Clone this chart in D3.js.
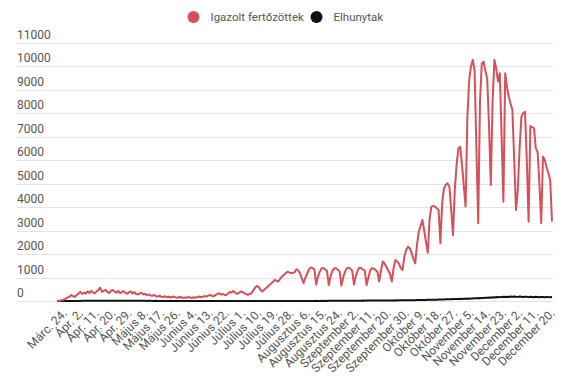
<!DOCTYPE html>
<html><head><meta charset="utf-8">
<script src="https://cdn.jsdelivr.net/npm/d3@7"></script>
<style>
html,body{margin:0;padding:0;background:#fff;}
svg{display:block;font-family:Roboto,"Noto Sans",sans-serif;}
</style></head>
<body>
<svg id="chart" width="575" height="387"></svg>
<script>
// ---------- DATA ----------
const startDate = "2020-03-20";
const endDate = "2020-12-20";
const seriesNames = ["Igazolt fertőzöttek", "Elhunytak"];
const seriesColors = ["#d5505b", "#111111"];
const yTicks = [0,1000,2000,3000,4000,5000,6000,7000,8000,9000,10000,11000];
const tickDates = ["2020-03-24","2020-04-02","2020-04-11","2020-04-20","2020-04-29","2020-05-08","2020-05-17","2020-05-26","2020-06-04","2020-06-13","2020-06-22","2020-07-01","2020-07-10","2020-07-19","2020-07-28","2020-08-06","2020-08-15","2020-08-24","2020-09-02","2020-09-11","2020-09-20","2020-09-30","2020-10-09","2020-10-18","2020-10-27","2020-11-05","2020-11-14","2020-11-23","2020-12-02","2020-12-11","2020-12-20"];
const tickLabels = ["Márc. 24.","Ápr. 2.","Ápr. 11.","Ápr. 20.","Ápr. 29.","Május 8.","Május 17.","Május 26.","Június 4.","Június 13.","Június 22.","Július 1.","Július 10.","Július 19.","Július 28.","Augusztus 6.","Augusztus 15.","Augusztus 24.","Szeptember 2.","Szeptember 11.","Szeptember 20.","Szeptember 30.","Október 9.","Október 18.","Október 27.","November 5.","November 14.","November 23.","December 2.","December 11.","December 20."];

// daily values, Mar 20 .. Dec 20
const infected = [
 10,15,25,40,60,110,150,190,250,200,180,260,
 320,390,300,350,320,410,340,430,370,330,400,470,570,390,430,480,380,340,430,470,400,350,430,330,380,420,350,310,370,410,
 320,380,300,280,320,350,280,300,250,280,230,220,260,200,190,230,180,170,200,160,180,150,170,190,150,140,170,160,130,150,140,
 170,150,130,160,140,170,190,160,180,210,190,230,260,220,200,250,290,330,280,300,260,250,320,380,360,430,350,300,340,400,
 390,330,290,260,300,330,450,560,640,600,480,400,470,540,600,680,750,820,900,860,830,950,1040,1120,1180,1250,1220,1180,1200,1220,1350,
 1300,1180,950,760,1000,1180,1350,1430,1400,1350,700,1050,1250,1390,1400,1350,1280,680,1050,1280,1390,1400,1330,1270,650,1000,1250,1400,1420,1380,1300,
 700,1050,1300,1420,1400,1340,1290,680,1000,1300,1400,1380,1320,1250,830,1300,1680,1600,1450,1300,1150,830,1400,1750,1680,1580,1400,1320,1900,2170,
 2310,2250,2050,1800,1600,2400,2950,3200,3450,3000,2500,2060,3500,4020,4050,4020,3950,3880,2460,4200,4800,4950,5010,4870,3900,2810,4730,5800,6500,6570,5800,
 4900,4020,7850,9410,10000,10270,9840,6500,3310,8500,10120,10190,9800,9480,7500,4940,8500,10270,9900,9350,9700,7000,4230,9700,9100,8700,8400,8140,6000,3880,
 4730,6500,7850,8000,8060,6000,3380,7450,7400,7360,6500,6360,5000,3310,6150,6010,5700,5440,5150,3380
];
const deaths = [
 1,1,2,2,1,2,2,3,2,2,3,4,
 5,4,6,7,8,6,9,11,12,10,13,14,12,11,13,14,12,10,11,13,12,10,11,12,9,10,11,9,10,8,
 8,9,7,8,6,7,8,6,5,7,6,5,4,6,5,4,3,5,4,3,4,2,3,2,3,4,2,3,2,1,2,
 2,1,1,2,1,1,2,0,1,1,1,2,1,0,1,1,0,1,1,0,1,0,1,1,0,1,1,0,1,1,
 1,0,1,1,0,1,0,1,1,0,1,0,1,1,0,1,0,1,1,0,1,1,0,1,1,2,1,1,2,1,2,
 2,3,2,3,2,4,3,5,4,3,6,5,4,6,5,7,5,6,8,6,7,9,8,10,9,11,10,12,11,13,12,
 12,14,13,15,14,16,15,17,16,18,17,19,18,20,19,21,20,22,21,23,22,25,24,27,26,29,28,31,30,33,
 32,35,34,37,36,40,38,43,41,46,44,50,48,54,52,58,56,62,60,68,65,72,70,78,75,82,80,88,85,92,90,
 98,95,104,100,110,106,118,112,125,120,132,128,140,135,150,142,160,152,168,158,175,165,180,170,185,175,190,178,188,180,
 175,190,182,170,185,178,165,180,172,160,178,170,158,175,168,160,172,165,158,170
];

// ---------- CHART ----------
const parse = d3.utcParse("%Y-%m-%d");
const days = d3.utcDay.range(parse(startDate), d3.utcDay.offset(parse(endDate), 1));
const svg = d3.select("#chart");

const x = d3.scaleUtc().domain([parse(startDate), parse(endDate)]).range([57, 552]);
const y = d3.scaleLinear().domain([0, 11000]).range([301, 42.7]);

// gridlines + y labels
const g = svg.append("g");
g.selectAll("line.grid").data(yTicks).join("line")
  .attr("x1", 17).attr("x2", 553)
  .attr("y1", d => Math.round(y(d)) + 0.5).attr("y2", d => Math.round(y(d)) + 0.5)
  .attr("stroke", "#e3e3e3").attr("stroke-width", 1);
g.selectAll("text.ylab").data(yTicks).join("text")
  .attr("x", 17).attr("y", d => y(d) - 4)
  .attr("font-size", 12).attr("fill", "#555")
  .text(d => d);

// x labels
const xl = svg.append("g");
xl.selectAll("text").data(tickDates).join("text")
  .attr("transform", d => `translate(${x(parse(d)) + 3.5},314) rotate(-45)`)
  .attr("text-anchor", "end")
  .attr("font-size", 12).attr("fill", "#555")
  .text((d, i) => tickLabels[i]);

// lines
const line = d3.line().x((d, i) => x(days[i])).y(d => y(d)).curve(d3.curveLinear);
svg.append("path").datum(deaths).attr("d", line)
  .attr("fill", "none").attr("stroke", seriesColors[1]).attr("stroke-width", 2).attr("stroke-linejoin", "round");
svg.append("path").datum(infected).attr("d", line)
  .attr("fill", "none").attr("stroke", seriesColors[0]).attr("stroke-width", 2).attr("stroke-linejoin", "round");

// legend
const lg = svg.append("g");
const legendX = [193.5, 316.5];
seriesNames.forEach((n, i) => {
  lg.append("circle").attr("cx", legendX[i]).attr("cy", 17).attr("r", 6).attr("fill", seriesColors[i]);
  lg.append("text").attr("x", legendX[i] + 17).attr("y", 21).attr("font-size", 11.5).attr("fill", "#555").text(n);
});
</script>
</body></html>
